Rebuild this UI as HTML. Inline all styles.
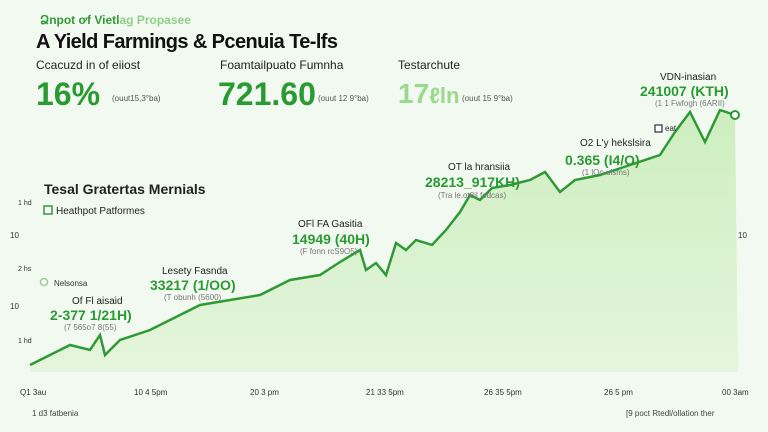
<!DOCTYPE html>
<html><head><style>
body{margin:0;width:768px;height:432px;overflow:hidden;background:#f2f9f0;font-family:"Liberation Sans",sans-serif;position:relative}
.a{position:absolute;white-space:nowrap}
</style></head><body>
<svg class="a" style="left:0;top:0" width="768" height="432">
<defs><linearGradient id="g" x1="0" y1="0" x2="0" y2="1"><stop offset="0" stop-color="#cdeec0"/><stop offset="1" stop-color="#e4f5dc"/></linearGradient></defs>
<path d="M30,365 L50,355 L70,345 L90,350 L100,335 L105,355 L120,340 L150,330 L180,315 L200,305 L230,300 L260,295 L290,280 L320,275 L340,262 L360,250 L366,270 L376,263 L386,275 L396,243 L406,250 L416,240 L432,245 L446,230 L460,212 L470,195 L480,200 L492,188 L510,185 L530,180 L545,172 L560,192 L575,180 L600,175 L630,165 L660,155 L675,132 L690,112 L705,142 L720,110 L735,115 L738,372 L30,372 Z" fill="url(#g)"/>
<polyline points="30,365 50,355 70,345 90,350 100,335 105,355 120,340 150,330 180,315 200,305 230,300 260,295 290,280 320,275 340,262 360,250 366,270 376,263 386,275 396,243 406,250 416,240 432,245 446,230 460,212 470,195 480,200 492,188 510,185 530,180 545,172 560,192 575,180 600,175 630,165 660,155 675,132 690,112 705,142 720,110 735,115" fill="none" stroke="#2f9a35" stroke-width="2.5"/>
<circle cx="735" cy="115" r="4" fill="#fff" stroke="#2f9a35" stroke-width="2"/>
<circle cx="44" cy="282" r="3.5" fill="#fff" stroke="#8fd08a" stroke-width="1.5"/>
<rect x="44" y="206" width="8" height="8" fill="#fff" stroke="#2f9a35" stroke-width="1.5"/>
<rect x="655" y="125" width="7" height="7" fill="#fff" stroke="#234" stroke-width="1.2"/>
</svg>
<div class="a" style="left:40px;top:13px;font-size:12px;font-weight:bold;color:#2f9a35">Ձnpot ơf Vietl<span style="color:#8fd08a">ag Propasee</span></div>
<div class="a" style="left:36px;top:31px;font-size:20px;font-weight:bold;color:#111;letter-spacing:-0.6px">A Yield Farmings &amp; Pcenuia Te-lfs</div>
<div class="a" style="left:36px;top:58px;font-size:12px;color:#222">Ccacuzd in of eiiost</div>
<div class="a" style="left:220px;top:58px;font-size:12px;color:#222">Foamtailpuato Fumnha</div>
<div class="a" style="left:398px;top:58px;font-size:12px;color:#222">Testarchute</div>
<div class="a" style="left:36px;top:76px;font-size:32px;font-weight:bold;color:#2a9a33">16%</div>
<div class="a" style="left:112px;top:94px;font-size:8px;color:#555">(ouut15,3°ba)</div>
<div class="a" style="left:218px;top:76px;font-size:32px;font-weight:bold;color:#2a9a33">721.60</div>
<div class="a" style="left:318px;top:94px;font-size:8px;color:#555">(ouut 12 9°ba)</div>
<div class="a" style="left:398px;top:78px;font-size:28px;font-weight:bold;color:#9ad88d">17<span style="font-size:22px">&#8467;ln</span></div>
<div class="a" style="left:462px;top:94px;font-size:8px;color:#555">(ouut 15 9°ba)</div>
<div class="a" style="left:660px;top:72px;font-size:10px;color:#222">VDN-inasian</div>
<div class="a" style="left:640px;top:83px;font-size:14px;font-weight:bold;color:#2a9a33">241007 (KTH)</div>
<div class="a" style="left:655px;top:99px;font-size:8px;color:#777">(1 1 Fwfogh (6ARII)</div>
<div class="a" style="left:665px;top:124px;font-size:8px;color:#222">eat</div>
<div class="a" style="left:580px;top:138px;font-size:10px;color:#222">O2 L'y hekslsira</div>
<div class="a" style="left:565px;top:152px;font-size:14px;font-weight:bold;color:#2a9a33">0.365 (I4/O)</div>
<div class="a" style="left:582px;top:168px;font-size:8px;color:#777">(1 lOo ulsms)</div>
<div class="a" style="left:448px;top:162px;font-size:10px;color:#222">OT la hransiia</div>
<div class="a" style="left:425px;top:174px;font-size:14px;font-weight:bold;color:#2a9a33">28213_917KH)</div>
<div class="a" style="left:438px;top:191px;font-size:8px;color:#777">(Tra le.ot8il fodcas)</div>
<div class="a" style="left:44px;top:181px;font-size:14px;font-weight:bold;color:#222">Tesal Gratertas Mernials</div>
<div class="a" style="left:18px;top:200px;font-size:7px;color:#333">1 hd</div>
<div class="a" style="left:56px;top:206px;font-size:10px;color:#222">Heathpot Patformes</div>
<div class="a" style="left:10px;top:231px;font-size:8px;color:#333">10</div>
<div class="a" style="left:738px;top:231px;font-size:8px;color:#333">10</div>
<div class="a" style="left:298px;top:219px;font-size:10px;color:#222">OFl FA Gasitia</div>
<div class="a" style="left:292px;top:231px;font-size:14px;font-weight:bold;color:#2a9a33">14949 (40H)</div>
<div class="a" style="left:300px;top:247px;font-size:8px;color:#777">(F fonn rcS9O5)</div>
<div class="a" style="left:18px;top:266px;font-size:7px;color:#333">2 hs</div>
<div class="a" style="left:54px;top:279px;font-size:8px;color:#333">Nelsonsa</div>
<div class="a" style="left:162px;top:266px;font-size:10px;color:#222">Lesety Fasnda</div>
<div class="a" style="left:150px;top:277px;font-size:14px;font-weight:bold;color:#2a9a33">33217 (1/OO)</div>
<div class="a" style="left:164px;top:293px;font-size:8px;color:#777">(T obunh (5600)</div>
<div class="a" style="left:10px;top:302px;font-size:8px;color:#333">10</div>
<div class="a" style="left:72px;top:296px;font-size:10px;color:#222">Of Fl aisaid</div>
<div class="a" style="left:50px;top:307px;font-size:14px;font-weight:bold;color:#2a9a33">2-377 1/21H)</div>
<div class="a" style="left:64px;top:323px;font-size:8px;color:#777">(7 565o7 8(55)</div>
<div class="a" style="left:18px;top:338px;font-size:7px;color:#333">1 hd</div>
<div class="a" style="left:20px;top:388px;font-size:8px;color:#333">Q1 3au</div>
<div class="a" style="left:134px;top:388px;font-size:8px;color:#333">10 4 5pm</div>
<div class="a" style="left:250px;top:388px;font-size:8px;color:#333">20 3 pm</div>
<div class="a" style="left:366px;top:388px;font-size:8px;color:#333">21 33 5pm</div>
<div class="a" style="left:484px;top:388px;font-size:8px;color:#333">26 35 5pm</div>
<div class="a" style="left:604px;top:388px;font-size:8px;color:#333">26 5 pm</div>
<div class="a" style="left:722px;top:388px;font-size:8px;color:#333">00 3am</div>
<div class="a" style="left:32px;top:409px;font-size:8px;color:#444">1 d3 fatbenia</div>
<div class="a" style="left:626px;top:409px;font-size:8px;color:#444">[9 poct Rtedl/ollation ther</div>
</body></html>
